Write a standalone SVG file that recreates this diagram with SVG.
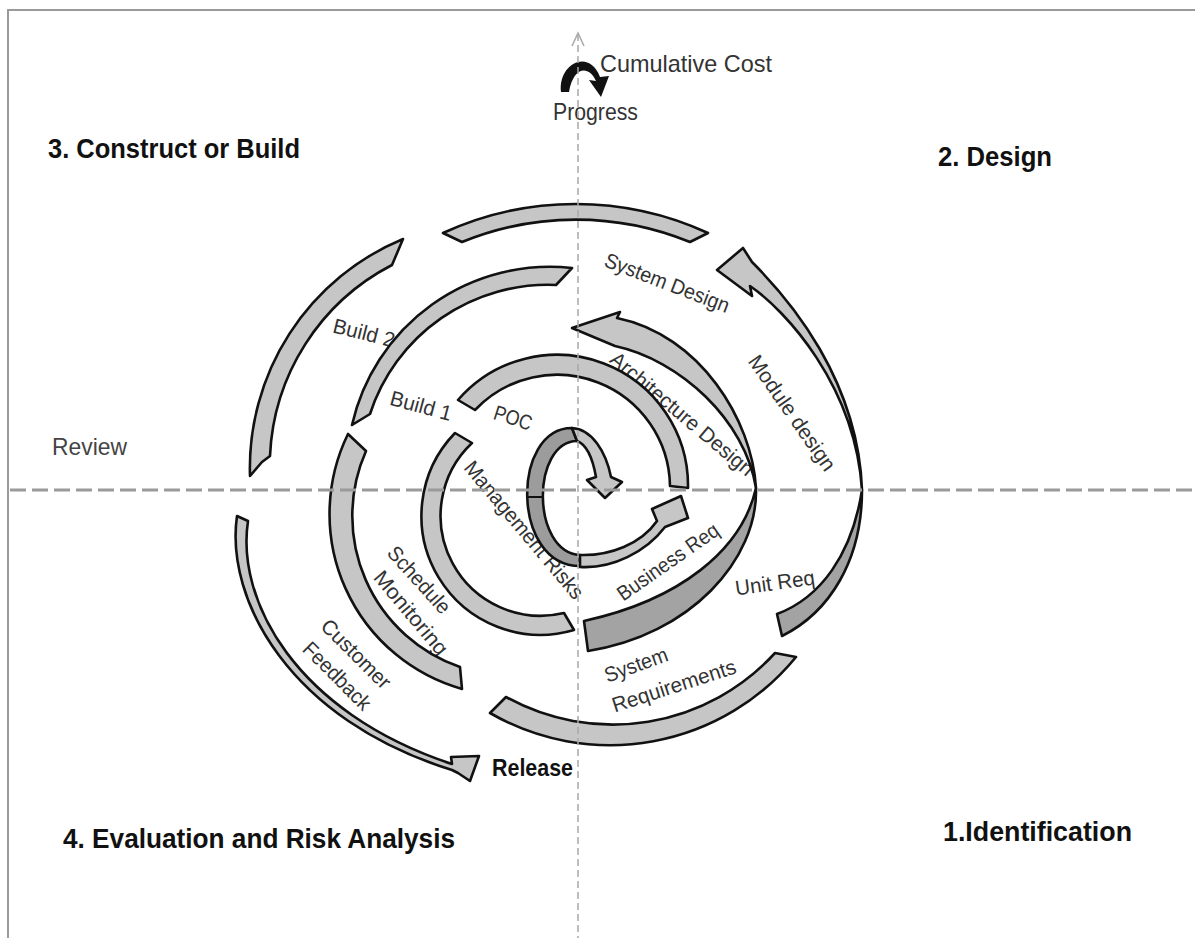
<svg xmlns="http://www.w3.org/2000/svg" width="1195" height="938" viewBox="0 0 1195 938">
<style>
.band{fill:#c6c6c6;stroke:#111;stroke-width:2.6;stroke-linejoin:round}
.dark{fill:#a3a3a3}
.mid{fill:#9c9c9c}
.lbl{font-family:"Liberation Sans",Arial,sans-serif;font-size:21px;fill:#333}
.q{font-family:"Liberation Sans",Arial,sans-serif;font-size:28px;font-weight:bold;fill:#111}
.t{font-family:"Liberation Sans",Arial,sans-serif;font-size:24px;fill:#333}
</style>
<rect width="1195" height="938" fill="#fff"/>
<path d="M8,938 L8,10 L1195,10" fill="none" stroke="#9a9a9a" stroke-width="2"/>

<g id="quadrants">
<text class="q" x="48" y="158" textLength="252" lengthAdjust="spacingAndGlyphs">3. Construct or Build</text>
<text class="q" x="938" y="166" textLength="114" lengthAdjust="spacingAndGlyphs">2. Design</text>
<text class="q" x="63" y="848" textLength="392" lengthAdjust="spacingAndGlyphs">4. Evaluation and Risk Analysis</text>
<text class="q" x="943" y="841" textLength="189" lengthAdjust="spacingAndGlyphs">1.Identification</text>
</g>

<g id="axis-labels">
<text class="t" x="600" y="72" textLength="172" lengthAdjust="spacingAndGlyphs">Cumulative Cost</text>
<text class="t" x="553" y="120" textLength="85" lengthAdjust="spacingAndGlyphs">Progress</text>
<text class="t" x="52" y="455" textLength="75" lengthAdjust="spacingAndGlyphs" style="fill:#444">Review</text>
<text class="t" x="492" y="776" textLength="81" lengthAdjust="spacingAndGlyphs" font-weight="bold" style="fill:#111">Release</text>
<path id="cost-arrow" d="M561,92 C558,64 589,48 600,77 L609,76 L601,97 L589,80 L596,81 C588,64 573,68 569,92 Z" fill="#111"/>
</g>

<g id="spiral-labels">
<text class="lbl" transform="translate(667,283) rotate(21)" text-anchor="middle" dy="7" textLength="132" lengthAdjust="spacingAndGlyphs">System Design</text>
<text class="lbl" transform="translate(682,414) rotate(40)" text-anchor="middle" dy="7" textLength="180" lengthAdjust="spacingAndGlyphs">Architecture Design</text>
<text class="lbl" transform="translate(792,413) rotate(55)" text-anchor="middle" dy="7" textLength="136" lengthAdjust="spacingAndGlyphs">Module design</text>
<text class="lbl" transform="translate(513,418) rotate(18)" text-anchor="middle" dy="7" textLength="39" lengthAdjust="spacingAndGlyphs">POC</text>
<text class="lbl" transform="translate(421,406) rotate(15)" text-anchor="middle" dy="7" textLength="63" lengthAdjust="spacingAndGlyphs">Build 1</text>
<text class="lbl" transform="translate(364,333) rotate(14)" text-anchor="middle" dy="7" textLength="63" lengthAdjust="spacingAndGlyphs">Build 2</text>
<text class="lbl" transform="translate(524,530) rotate(50)" text-anchor="middle" dy="7" textLength="173" lengthAdjust="spacingAndGlyphs">Management Risks</text>
<text class="lbl" transform="translate(668,562) rotate(-35)" text-anchor="middle" dy="7" textLength="119" lengthAdjust="spacingAndGlyphs">Business Req</text>
<text class="lbl" transform="translate(775,583) rotate(-8)" text-anchor="middle" dy="7" textLength="80" lengthAdjust="spacingAndGlyphs">Unit Req</text>
<text class="lbl" transform="translate(636,665) rotate(-20)" text-anchor="middle" dy="7" textLength="66" lengthAdjust="spacingAndGlyphs">System</text>
<text class="lbl" transform="translate(674,686) rotate(-18)" text-anchor="middle" dy="7" textLength="129" lengthAdjust="spacingAndGlyphs">Requirements</text>
<text class="lbl" transform="translate(419,580) rotate(48)" text-anchor="middle" dy="7" textLength="83" lengthAdjust="spacingAndGlyphs">Schedule</text>
<text class="lbl" transform="translate(411,613) rotate(50)" text-anchor="middle" dy="7" textLength="103" lengthAdjust="spacingAndGlyphs">Monitoring</text>
<text class="lbl" transform="translate(356,654) rotate(45)" text-anchor="middle" dy="7" textLength="89" lengthAdjust="spacingAndGlyphs">Customer</text>
<text class="lbl" transform="translate(337,676) rotate(45)" text-anchor="middle" dy="7" textLength="87" lengthAdjust="spacingAndGlyphs">Feedback</text>
</g>

<g id="top-arc"><path class="band" d="M443,233 A317,317 0 0 1 708,233 L690,242 A301,301 0 0 0 462,242 Z"/></g>
<g id="build2-arc"><path class="band" d="M403,239 A248,248 0 0 0 250,476 L262,462 L270,456 A226,226 0 0 1 392,265 Z"/></g>
<g id="build1-arc"><path class="band" d="M572,268 A203,203 0 0 0 352,425 L370,414 A187,187 0 0 1 556,285 Z"/></g>
<g id="schedule-arc"><path class="band" d="M348,434 A182,182 0 0 0 462,689 L460,667 A160,160 0 0 1 366,451 Z"/></g>
<g id="management-arc"><path class="band" d="M574,630 A119,119 0 0 1 455,433 L472,443 A100,100 0 0 0 564,613 Z"/></g>
<g id="poc-arc"><path class="band" d="M458,400 A131,131 0 0 1 688,488 L670,486 A113,113 0 0 0 475,410 Z"/></g>
<g id="sysreq-arc"><path class="band" d="M490,713 A240,240 0 0 0 796,657 L775,653 A220,220 0 0 1 506,697 Z"/></g>
<g id="arch-design"><path class="band" d="M572,328 L620,312 L617,318 C700,335 752,420 756,488 C745,420 680,360 615,346 Z"/></g>
<g id="business-req"><path class="band dark" d="M756,488 C758,560 690,635 588,651 L584,621 C680,600 742,550 756,488 Z"/></g>
<g id="module-design"><path class="band" d="M717,270 L743,248 L752,262 C790,300 858,380 862,490 C855,385 785,310 750,286 L752,296 Z"/></g>
<g id="unit-req"><path class="band dark" d="M862,490 C862,560 830,612 782,636 L777,614 C820,598 852,555 862,490 Z"/></g>
<g id="customer-feedback"><path class="band" d="M237,516 C225,600 290,720 452,770 L458,773 L470,781 L479,756 L451,757 L452,764 C295,712 236,600 248,521 Z"/></g>
<g id="core">
<path class="band mid" d="M572,428 C511,428 511,566 580,566 L580,555 C531,552 531,442 577,441 Z"/>
<path class="band" d="M572,428 C592,429 606,452 611,477 L622,482 L605,498 L587,480 L596,477 C593,460 588,445 577,441 Z"/>
<path class="band" d="M580,567 C612,569 646,552 665,527 L688,518 L681,496 L652,509 L657,521 C641,544 610,556 580,555 Z"/>
<path d="M527,497 L543,497" stroke="#111" stroke-width="2"/>
</g>

<g id="connectors">
<line x1="10" y1="490" x2="1195" y2="490" stroke="#9a9a9a" stroke-width="3" stroke-dasharray="16 6"/>
<line x1="578" y1="34" x2="578" y2="938" stroke="#a8a8a8" stroke-width="1.5" stroke-dasharray="7 4"/>
<polyline points="572,46 578,33 584,46" fill="none" stroke="#a8a8a8" stroke-width="1.5"/>
</g>
</svg>
